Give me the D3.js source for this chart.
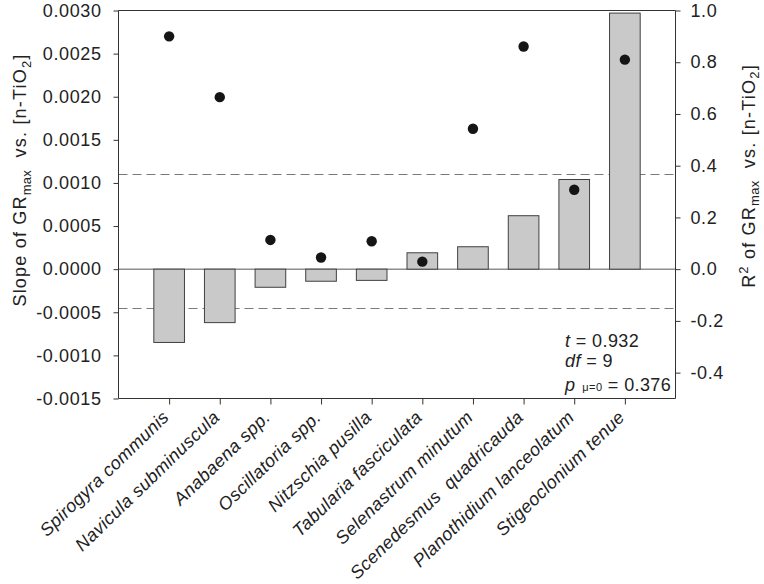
<!DOCTYPE html>
<html>
<head>
<meta charset="utf-8">
<script src="https://cdn.jsdelivr.net/npm/d3@7"></script>
<style>
  html, body { margin: 0; padding: 0; background: #fff; }
  svg { display: block; font-family: "Liberation Sans", Arial, Helvetica, sans-serif; }
  text { fill: #222; }
</style>
</head>
<body>
<svg id="chart" width="764" height="584"></svg>
<script>
// ---- data ----
const species = [
  "Spirogyra communis",
  "Navicula subminuscula",
  "Anabaena spp.",
  "Oscillatoria spp.",
  "Nitzschia pusilla",
  "Tabularia fasciculata",
  "Selenastrum minutum",
  "Scenedesmus  quadricauda",
  "Planothidium lanceolatum",
  "Stigeoclonium tenue"
];
const slopes = [-0.00085, -0.00062, -0.00021, -0.00014, -0.00013, 0.00019, 0.00026, 0.00062, 0.00104, 0.00297];
const r2 = [0.90, 0.665, 0.113, 0.045, 0.108, 0.029, 0.543, 0.861, 0.307, 0.81];
const dashedLevels = [0.0011, -0.00045];
const leftTicks = [-0.0015, -0.0010, -0.0005, 0.0, 0.0005, 0.0010, 0.0015, 0.0020, 0.0025, 0.0030];
const rightTicks = [-0.4, -0.2, 0.0, 0.2, 0.4, 0.6, 0.8, 1.0];
const stats = { t: "0.932", df: "9", p: "0.376" };

// ---- layout ----
const L = 118.5, R = 675.5, T = 10.5, B = 398.5;
const svg = d3.select("#chart");

const x = d3.scalePoint().domain(species).range([L, R]).padding(1);
const yL = d3.scaleLinear().domain([-0.0015, 0.0030]).range([B, T]);
const yR = d3.scaleLinear().domain([-0.5, 1.0]).range([B, T]);
const barW = x.step() * 0.605;

// zero line
svg.append("line")
  .attr("x1", L).attr("x2", R).attr("y1", yL(0)).attr("y2", yL(0))
  .attr("stroke", "#555").attr("stroke-width", 1);

// dashed reference lines
svg.selectAll("line.dash").data(dashedLevels).join("line")
  .attr("class", "dash")
  .attr("x1", L).attr("x2", R)
  .attr("y1", d => Math.round(yL(d)) + 0.5).attr("y2", d => Math.round(yL(d)) + 0.5)
  .attr("stroke", "#7a7a7a").attr("stroke-width", 1)
  .attr("stroke-dasharray", "9,5");

// bars
svg.selectAll("rect.bar").data(slopes).join("rect")
  .attr("class", "bar")
  .attr("x", (d, i) => x(species[i]) - barW / 2)
  .attr("width", barW)
  .attr("y", d => yL(Math.max(0, d)))
  .attr("height", d => Math.abs(yL(d) - yL(0)))
  .attr("fill", "#c9c9c9")
  .attr("stroke", "#404040").attr("stroke-width", 1);

// dots
svg.selectAll("circle.dot").data(r2).join("circle")
  .attr("class", "dot")
  .attr("cx", (d, i) => x(species[i]))
  .attr("cy", d => yR(d))
  .attr("r", 5.2)
  .attr("fill", "#151515");

// frame: top line
svg.append("line").attr("x1", L).attr("x2", R).attr("y1", T).attr("y2", T)
  .attr("stroke", "#333").attr("stroke-width", 1);

// axes
const fontSize = "18px";
const gL = svg.append("g").attr("transform", `translate(${L},0)`)
  .call(d3.axisLeft(yL).tickValues(leftTicks).tickFormat(d3.format(".4f")).tickSize(5).tickPadding(12));
const gR = svg.append("g").attr("transform", `translate(${R},0)`)
  .call(d3.axisRight(yR).tickValues(rightTicks).tickFormat(d3.format(".1f")).tickSize(5).tickPadding(10));
const gB = svg.append("g").attr("transform", `translate(0,${B})`)
  .call(d3.axisBottom(x).tickSize(6).tickFormat(""));

[gL, gR, gB].forEach(g => {
  g.select(".domain").attr("stroke", "#333");
  g.selectAll(".tick line").attr("stroke", "#333");
  g.selectAll("text").attr("font-size", fontSize).attr("fill", "#222")
    .attr("letter-spacing", "0.6px")
    .attr("font-family", "'Liberation Sans', Arial, sans-serif");
});
gL.selectAll("text").text(d => d3.format(".4f")(d).replace("−", "-"));
gR.selectAll("text").text(d => d3.format(".1f")(d).replace("−", "-"));
gL.select(".domain").attr("d", `M0,${T}V${B}`);
gR.select(".domain").attr("d", `M0,${T}V${B}`);
gB.select(".domain").attr("d", `M${L},0H${R}`);

// x labels
svg.selectAll("text.xl").data(species).join("text")
  .attr("class", "xl")
  .attr("transform", d => `translate(${x(d) + 1},${B + 20}) rotate(-44)`)
  .attr("text-anchor", "end")
  .attr("font-size", "18px")
  .attr("letter-spacing", "0.4px")
  .attr("font-style", "italic")
  .style("white-space", "pre")
  .text(d => d);

// left title
const lt = svg.append("text")
  .attr("transform", `translate(26,${180}) rotate(-90)`)
  .attr("text-anchor", "middle")
  .attr("font-size", "18px")
  .attr("letter-spacing", "1.2px")
  .style("white-space", "pre");
lt.append("tspan").text("Slope of GR");
lt.append("tspan").attr("font-size", "13px").attr("dy", 5).attr("letter-spacing", "0.3px").text("max");
lt.append("tspan").attr("dy", -5).text("  vs. [n-TiO");
lt.append("tspan").attr("font-size", "13px").attr("dy", 5).text("2");
lt.append("tspan").attr("dy", -5).text("]");

// right title
const rt = svg.append("text")
  .attr("transform", `translate(755,${176}) rotate(-90)`)
  .attr("text-anchor", "middle")
  .attr("font-size", "18px")
  .attr("letter-spacing", "1.2px")
  .style("white-space", "pre");
rt.append("tspan").text("R");
rt.append("tspan").attr("font-size", "13px").attr("dy", -7).text("2");
rt.append("tspan").attr("dy", 7).text(" of GR");
rt.append("tspan").attr("font-size", "13px").attr("dy", 4).attr("letter-spacing", "0.3px").text("max");
rt.append("tspan").attr("dy", -4).text("  vs. [n-TiO");
rt.append("tspan").attr("font-size", "13px").attr("dy", 4).text("2");
rt.append("tspan").attr("dy", -4).text("]");

// stats annotation
const sx = 565;
const t1 = svg.append("text").attr("x", sx).attr("y", 347).attr("font-size", "18px").attr("letter-spacing", "0.4px");
t1.append("tspan").attr("font-style", "italic").text("t");
t1.append("tspan").text(" = " + stats.t);
const t2 = svg.append("text").attr("x", sx).attr("y", 367).attr("font-size", "18px").attr("letter-spacing", "0.4px");
t2.append("tspan").attr("font-style", "italic").text("df");
t2.append("tspan").text(" = " + stats.df);
const t3 = svg.append("text").attr("x", sx).attr("y", 391).attr("font-size", "18px").attr("letter-spacing", "0.4px")
  .style("white-space", "pre");
t3.append("tspan").attr("font-style", "italic").text("p");
t3.append("tspan").attr("font-size", "11px").text("  μ=0");
t3.append("tspan").text(" = " + stats.p);
</script>
</body>
</html>
